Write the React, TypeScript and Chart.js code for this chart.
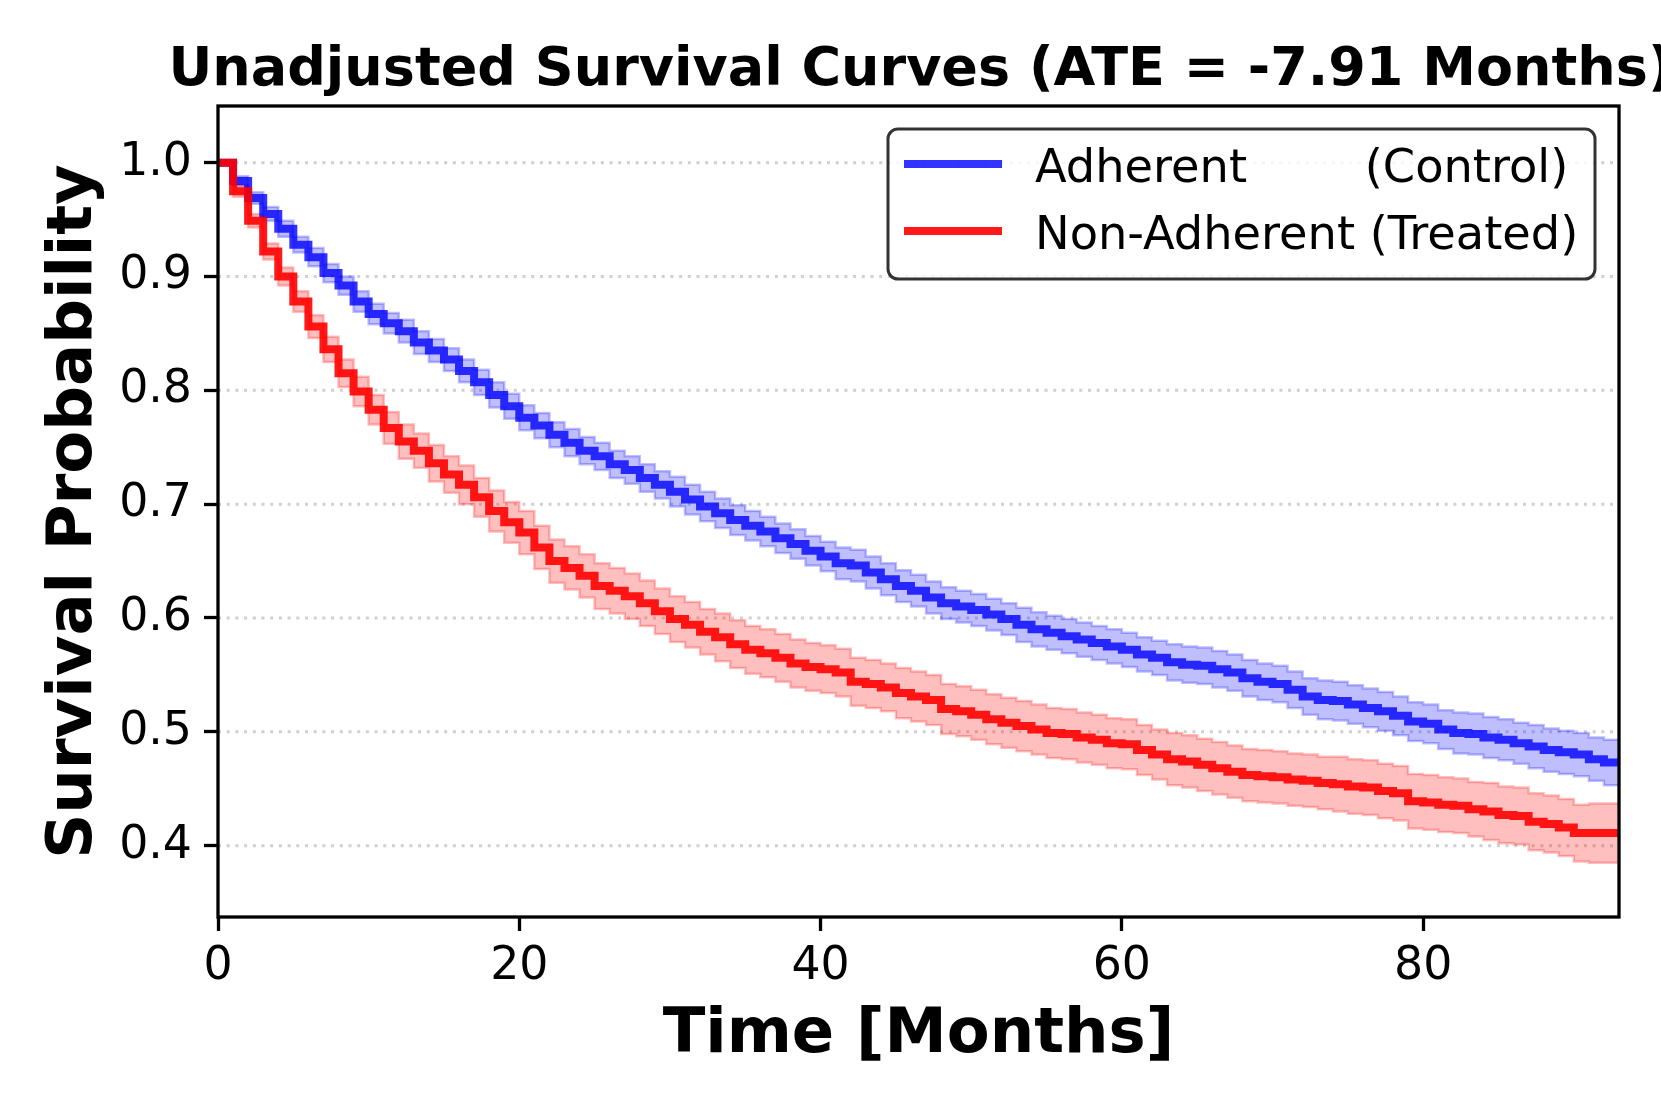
import React, { useEffect, useRef } from 'react';
import { Chart, registerables } from 'chart.js';

Chart.register(...registerables);

const chartTitle = 'Unadjusted Survival Curves (ATE = -7.91 Months)';
const xAxisTitle = 'Time [Months]';
const yAxisTitle = 'Survival Probability';
const seriesLabels = ['Adherent        (Control)', 'Non-Adherent (Treated)'];

const xTickValues = [0, 20, 40, 60, 80];
const yTickValues = [0.4, 0.5, 0.6, 0.7, 0.8, 0.9, 1.0];

const months = [
  0, 1, 2, 3, 4, 5, 6, 7, 8, 9,
  10, 11, 12, 13, 14, 15, 16, 17, 18, 19,
  20, 21, 22, 23, 24, 25, 26, 27, 28, 29,
  30, 31, 32, 33, 34, 35, 36, 37, 38, 39,
  40, 41, 42, 43, 44, 45, 46, 47, 48, 49,
  50, 51, 52, 53, 54, 55, 56, 57, 58, 59,
  60, 61, 62, 63, 64, 65, 66, 67, 68, 69,
  70, 71, 72, 73, 74, 75, 76, 77, 78, 79,
  80, 81, 82, 83, 84, 85, 86, 87, 88, 89,
  90, 91, 92, 93,
];

const adherentSurv = [
  1.000, 0.984, 0.969, 0.955, 0.942, 0.928, 0.917, 0.903, 0.892, 0.878,
  0.867, 0.859, 0.852, 0.842, 0.835, 0.827, 0.817, 0.807, 0.796, 0.786,
  0.776, 0.769, 0.761, 0.754, 0.747, 0.742, 0.735, 0.730, 0.723, 0.717,
  0.711, 0.704, 0.698, 0.692, 0.686, 0.681, 0.676, 0.670, 0.665, 0.659,
  0.654, 0.648, 0.646, 0.640, 0.634, 0.628, 0.624, 0.618, 0.613, 0.610,
  0.607, 0.603, 0.599, 0.594, 0.590, 0.587, 0.584, 0.581, 0.578, 0.575,
  0.572, 0.568, 0.565, 0.561, 0.559, 0.558, 0.555, 0.552, 0.547, 0.544,
  0.542, 0.537, 0.531, 0.528, 0.527, 0.524, 0.521, 0.518, 0.514, 0.509,
  0.507, 0.502, 0.499, 0.498, 0.495, 0.493, 0.490, 0.487, 0.484, 0.482,
  0.480, 0.476, 0.473, 0.473,
];

const adherentHalfCI = [
  0.000, 0.004, 0.005, 0.006, 0.007, 0.007, 0.008, 0.008, 0.008, 0.009,
  0.009, 0.009, 0.010, 0.010, 0.010, 0.010, 0.010, 0.011, 0.011, 0.011,
  0.011, 0.011, 0.011, 0.012, 0.012, 0.012, 0.012, 0.012, 0.012, 0.012,
  0.013, 0.013, 0.013, 0.013, 0.013, 0.013, 0.013, 0.013, 0.013, 0.013,
  0.013, 0.014, 0.014, 0.014, 0.014, 0.014, 0.014, 0.014, 0.014, 0.014,
  0.014, 0.014, 0.014, 0.015, 0.015, 0.015, 0.015, 0.015, 0.015, 0.015,
  0.015, 0.015, 0.015, 0.016, 0.016, 0.016, 0.016, 0.016, 0.016, 0.016,
  0.016, 0.016, 0.016, 0.017, 0.017, 0.017, 0.017, 0.017, 0.017, 0.017,
  0.017, 0.017, 0.018, 0.018, 0.018, 0.018, 0.018, 0.019, 0.019, 0.019,
  0.019, 0.019, 0.020, 0.020,
];

const nonAdherentSurv = [
  1.000, 0.975, 0.949, 0.922, 0.900, 0.878, 0.856, 0.836, 0.815, 0.799,
  0.783, 0.767, 0.755, 0.747, 0.736, 0.726, 0.717, 0.706, 0.694, 0.684,
  0.675, 0.662, 0.650, 0.644, 0.637, 0.628, 0.624, 0.619, 0.613, 0.606,
  0.599, 0.594, 0.588, 0.583, 0.577, 0.572, 0.569, 0.565, 0.560, 0.557,
  0.555, 0.552, 0.544, 0.542, 0.539, 0.534, 0.531, 0.528, 0.520, 0.518,
  0.515, 0.511, 0.508, 0.505, 0.502, 0.499, 0.498, 0.495, 0.493, 0.490,
  0.489, 0.484, 0.480, 0.476, 0.474, 0.471, 0.468, 0.465, 0.462, 0.461,
  0.460, 0.458, 0.457, 0.455, 0.454, 0.452, 0.451, 0.448, 0.446, 0.439,
  0.438, 0.436, 0.435, 0.432, 0.430, 0.427, 0.426, 0.421, 0.419, 0.416,
  0.411, 0.411, 0.411, 0.411,
];

const nonAdherentHalfCI = [
  0.000, 0.005, 0.006, 0.007, 0.008, 0.009, 0.010, 0.011, 0.012, 0.013,
  0.013, 0.014, 0.015, 0.015, 0.016, 0.016, 0.017, 0.017, 0.018, 0.018,
  0.019, 0.019, 0.019, 0.019, 0.019, 0.020, 0.020, 0.020, 0.020, 0.020,
  0.020, 0.020, 0.020, 0.021, 0.021, 0.021, 0.021, 0.021, 0.021, 0.021,
  0.021, 0.021, 0.021, 0.021, 0.021, 0.022, 0.022, 0.022, 0.022, 0.022,
  0.022, 0.022, 0.022, 0.022, 0.022, 0.022, 0.022, 0.022, 0.022, 0.022,
  0.022, 0.022, 0.022, 0.023, 0.023, 0.023, 0.023, 0.023, 0.023, 0.023,
  0.023, 0.023, 0.023, 0.023, 0.024, 0.024, 0.024, 0.024, 0.024, 0.024,
  0.024, 0.024, 0.024, 0.024, 0.025, 0.025, 0.025, 0.025, 0.025, 0.025,
  0.025, 0.026, 0.026, 0.026,
];

const FONT = "'DejaVu Sans', 'Liberation Sans', sans-serif";
const BLUE_LINE = 'rgba(0,0,255,0.8)';
const RED_LINE = 'rgba(255,0,0,0.9)';
const BLUE_BAND = 'rgba(0,0,255,0.25)';
const RED_BAND = 'rgba(255,0,0,0.25)';

const pts = (vals: number[], off: number[] | null, sign: number) =>
  months.map((m, i) => ({ x: m, y: vals[i] + (off ? sign * off[i] : 0) }));

const decorPlugin = {
  id: 'decor',
  beforeDatasetsDraw(chart: any) {
    const { ctx, chartArea } = chart;
    const ys = chart.scales.y;
    ctx.save();
    ctx.strokeStyle = '#d0d0d0';
    ctx.lineWidth = 3;
    ctx.setLineDash([3, 5.7]);
    yTickValues.forEach((v) => {
      const y = ys.getPixelForValue(v);
      ctx.beginPath();
      ctx.moveTo(chartArea.left, y);
      ctx.lineTo(chartArea.right, y);
      ctx.stroke();
    });
    ctx.restore();
  },
  afterDraw(chart: any) {
    const { ctx, chartArea } = chart;
    ctx.save();
    // spines
    ctx.strokeStyle = '#000';
    ctx.lineWidth = 3.3;
    ctx.strokeRect(chartArea.left, chartArea.top, chartArea.right - chartArea.left, chartArea.bottom - chartArea.top);
    // title
    ctx.fillStyle = '#000';
    ctx.font = `bold 54px ${FONT}`;
    ctx.textAlign = 'center';
    ctx.textBaseline = 'alphabetic';
    ctx.fillText(chartTitle, (chartArea.left + chartArea.right) / 2 + 2, 85);
    // legend
    const bx = 888, by = 129, bw = 707, bh = 150, r = 10;
    ctx.beginPath();
    ctx.moveTo(bx + r, by);
    ctx.lineTo(bx + bw - r, by);
    ctx.arcTo(bx + bw, by, bx + bw, by + r, r);
    ctx.lineTo(bx + bw, by + bh - r);
    ctx.arcTo(bx + bw, by + bh, bx + bw - r, by + bh, r);
    ctx.lineTo(bx + r, by + bh);
    ctx.arcTo(bx, by + bh, bx, by + bh - r, r);
    ctx.lineTo(bx, by + r);
    ctx.arcTo(bx, by, bx + r, by, r);
    ctx.closePath();
    ctx.fillStyle = 'rgba(255,255,255,0.8)';
    ctx.fill();
    ctx.strokeStyle = 'rgba(0,0,0,0.8)';
    ctx.lineWidth = 3;
    ctx.stroke();
    const colors = [BLUE_LINE, RED_LINE];
    const rowY = [164, 231];
    seriesLabels.forEach((lab, i) => {
      ctx.strokeStyle = colors[i];
      ctx.lineWidth = 8;
      ctx.lineCap = 'butt';
      ctx.beginPath();
      ctx.moveTo(904, rowY[i]);
      ctx.lineTo(1002, rowY[i]);
      ctx.stroke();
      ctx.fillStyle = '#000';
      ctx.font = `46.3px ${FONT}`;
      ctx.textAlign = 'left';
      ctx.textBaseline = 'alphabetic';
      ctx.fillText(lab, 1035, rowY[i] + 18);
    });
    ctx.restore();
  },
};

export default function App() {
  const ref = useRef<HTMLCanvasElement | null>(null);
  useEffect(() => {
    document.body.style.margin = '0';
    const canvas = ref.current;
    if (!canvas) return;
    const chart = new Chart(canvas, {
      type: 'line',
      data: {
        datasets: [
          { label: 'adh upper', data: pts(adherentSurv, adherentHalfCI, 1), borderColor: BLUE_BAND, borderWidth: 2.5, fill: false, stepped: 'before', pointRadius: 0, order: 3 },
          { label: 'adh lower', data: pts(adherentSurv, adherentHalfCI, -1), borderColor: BLUE_BAND, borderWidth: 2.5, backgroundColor: BLUE_BAND, fill: '-1', stepped: 'before', pointRadius: 0, order: 3 },
          { label: 'non upper', data: pts(nonAdherentSurv, nonAdherentHalfCI, 1), borderColor: RED_BAND, borderWidth: 2.5, fill: false, stepped: 'before', pointRadius: 0, order: 2 },
          { label: 'non lower', data: pts(nonAdherentSurv, nonAdherentHalfCI, -1), borderColor: RED_BAND, borderWidth: 2.5, backgroundColor: RED_BAND, fill: '-1', stepped: 'before', pointRadius: 0, order: 2 },
          { label: seriesLabels[0], data: pts(adherentSurv, null, 0), borderColor: BLUE_LINE, borderWidth: 8, fill: false, stepped: 'before', pointRadius: 0, borderJoinStyle: 'miter', order: 1 },
          { label: seriesLabels[1], data: pts(nonAdherentSurv, null, 0), borderColor: RED_LINE, borderWidth: 8, fill: false, stepped: 'before', pointRadius: 0, borderJoinStyle: 'miter', order: 0 },
        ] as any,
      },
      options: {
        animation: false,
        responsive: false,
        devicePixelRatio: 1,
        layout: { padding: { left: 0, right: 42, top: 106, bottom: 0 } },
        plugins: {
          legend: { display: false },
          title: { display: false },
          tooltip: { enabled: false },
        },
        elements: { point: { radius: 0 }, line: { tension: 0 } },
        scales: {
          x: {
            type: 'linear',
            min: 0,
            max: 93,
            afterFit: (s: any) => { s.height = 190; },
            afterBuildTicks: (s: any) => { s.ticks = xTickValues.map((v) => ({ value: v })); },
            grid: { drawOnChartArea: false, drawTicks: true, tickLength: 14, tickWidth: 3.3, tickColor: '#000' },
            border: { display: false },
            ticks: { color: '#000', font: { family: FONT, size: 45.8 }, padding: 8.5, maxRotation: 0, autoSkip: false, callback: (v: any) => String(v) },
            title: { display: true, text: xAxisTitle, color: '#000', font: { family: FONT, size: 62.5, weight: 'bold' }, padding: { top: 0, bottom: 34 } },
          },
          y: {
            type: 'linear',
            min: 0.3373,
            max: 1.0498,
            afterFit: (s: any) => { s.width = 218; },
            afterBuildTicks: (s: any) => { s.ticks = yTickValues.map((v) => ({ value: v })); },
            grid: { drawOnChartArea: false, drawTicks: true, tickLength: 14, tickWidth: 3.3, tickColor: '#000' },
            border: { display: false },
            ticks: { color: '#000', font: { family: FONT, size: 45.8 }, padding: 12, autoSkip: false, callback: (v: any) => Number(v).toFixed(1) },
            title: { display: true, text: yAxisTitle, color: '#000', font: { family: FONT, size: 62.5, weight: 'bold' }, padding: { top: 37, bottom: 0 } },
          },
        },
      } as any,
      plugins: [decorPlugin],
    });
    return () => chart.destroy();
  }, []);
  return <canvas ref={ref} width={1661} height={1107} style={{ display: 'block', width: '1661px', height: '1107px' }} />;
}
